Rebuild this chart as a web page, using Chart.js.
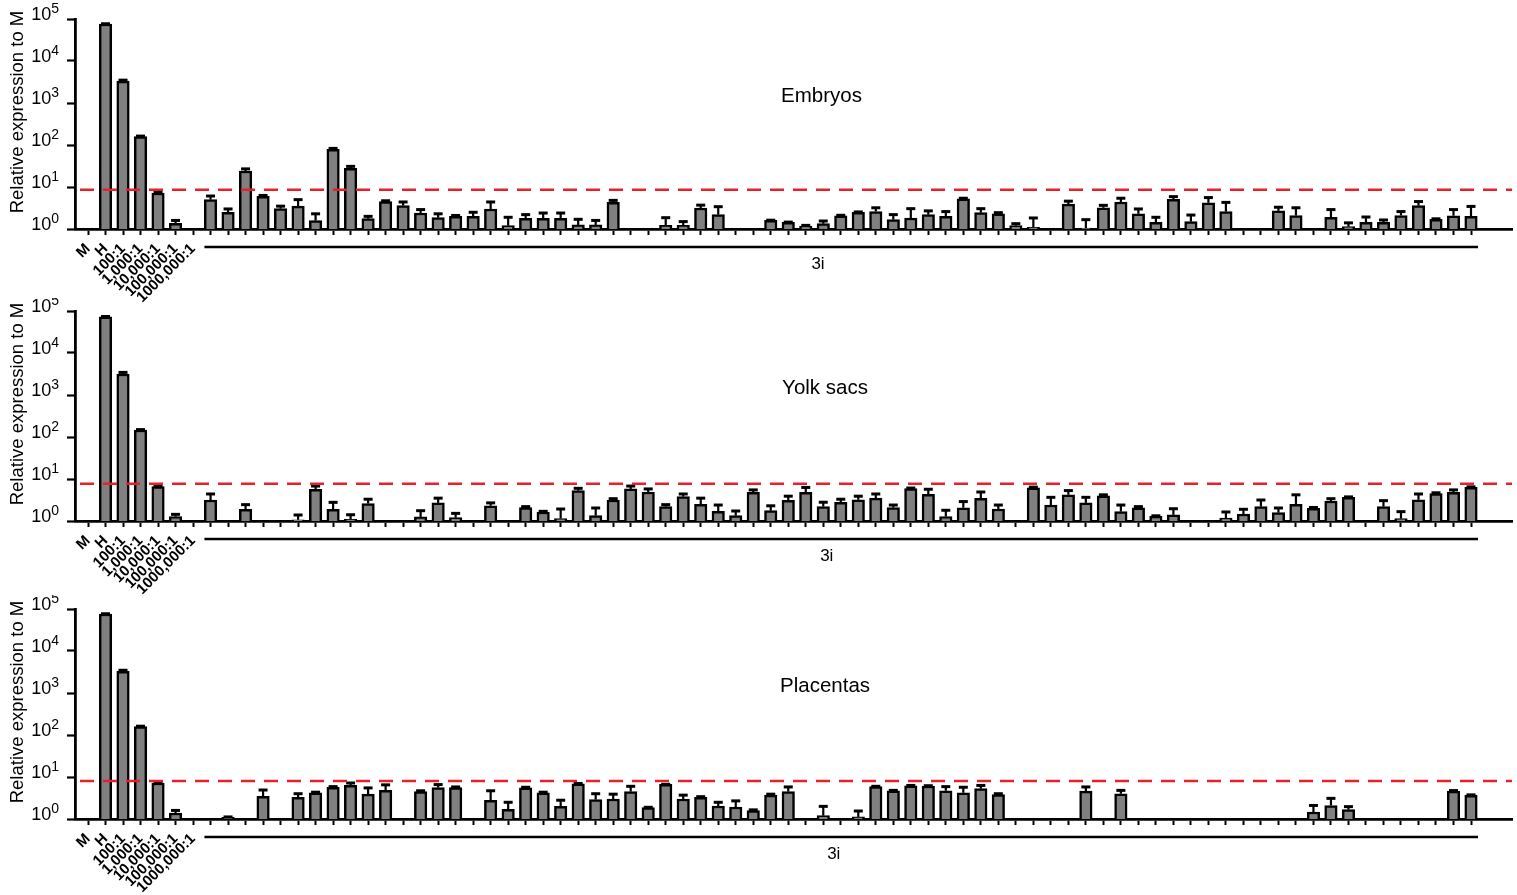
<!DOCTYPE html>
<html>
<head>
<meta charset="utf-8">
<script src="https://cdn.jsdelivr.net/npm/chart.js@4.4.1/dist/chart.umd.min.js"></script>
<style>
  html, body { margin: 0; padding: 0; background: #fff; }
  #wrap { position: relative; width: 1517px; height: 895px; overflow: hidden; }
  canvas { position: absolute; left: 0; }
</style>
</head>
<body>
<div id="wrap"></div>
<script>
// x categories: 7 controls then 73 "3i" samples (unlabelled)
const controlLabels = ['M', 'H', '100:1', '1,000:1', '10,000:1', '100,000:1', '1000,000:1'];
const sampleCount = 73;
const yTickPowers = [0, 1, 2, 3, 4, 5];

// Embryos
const embryoControls    = [null, 76000, 3330, 158, 7.2, 1.36, null];
const embryoControlsErr = [null, 77000, 3500, 163, 7.6, 1.6, null];
const embryoSamples = [5.0, 2.5, 24, 6.0, 3.05, 3.5, 1.58, 79, 28, 1.76, 4.5, 3.6, 2.4, 1.86, 2.0, 2.0, 3.0, 1.2, 1.8, 1.8,
  1.8, 1.25, 1.25, 4.3, null, null, 1.22, 1.22, 3.16, 2.2, null, null, 1.6, 1.44, 1.18, 1.34, 2.07, 2.5, 2.6, 1.67,
  1.83, 2.2, 2.0, 5.2, 2.45, 2.3, 1.2, 1.1, null, 3.9, 1.05, 3.2, 4.4, 2.3, 1.44, 5.1, 1.5, 4.2, 2.6, null,
  null, 2.7, 2.1, null, 1.9, 1.14, 1.44, 1.44, 2.1, 3.6, 1.7, 2.07, 2.0];
const embryoSamplesErr = [6.1, 3.0, 27, 6.3, 3.5, 5.0, 2.3, 83, 31, 2.0, 4.7, 4.4, 2.9, 2.3, 2.1, 2.5, 4.4, 1.9, 2.2, 2.4,
  2.4, 1.7, 1.6, 4.8, null, null, 1.86, 1.5, 3.7, 3.4, null, null, 1.62, 1.46, 1.22, 1.55, 2.12, 2.55, 3.2, 2.2,
  3.05, 2.7, 2.6, 5.4, 3.05, 2.45, 1.34, 1.83, null, 4.6, 1.67, 3.66, 5.4, 3.0, 1.9, 5.9, 2.15, 5.6, 4.3, null,
  null, 3.3, 3.2, null, 2.9, 1.4, 1.93, 1.64, 2.6, 4.5, 1.75, 2.9, 3.45];
const embryoThreshold = 8.6;

// Yolk sacs
const yolkControls    = [null, 73000, 3160, 147, 6.6, 1.27, null];
const yolkControlsErr = [null, 74000, 3450, 150, 6.9, 1.44, null];
const yolkSamples = [3.16, null, 1.9, null, null, 1.07, 5.7, 1.9, 1.1, 2.6, null, null, 1.25, 2.7, 1.2, null, 2.3, null, 2.1, 1.64,
  1.14, 5.3, 1.34, 3.16, 5.8, 4.9, 2.2, 3.8, 2.5, 1.7, 1.34, 4.8, 1.76, 3.1, 4.8, 2.2, 2.8, 3.2, 3.5, 2.1,
  5.9, 4.3, 1.27, 2.07, 3.46, 1.93, null, 6.2, 2.4, 4.2, 2.7, 4.0, 1.67, 2.07, 1.3, 1.4, null, null, 1.18, 1.47,
  2.2, 1.58, 2.5, 2.0, 3.0, 3.66, null, 2.2, 1.14, 3.2, 4.5, 4.8, 6.3];
const yolkSamplesErr = [4.4, null, 2.45, null, null, 1.39, 6.8, 2.78, 1.41, 3.3, null, null, 1.76, 3.5, 1.52, null, 2.7, null, 2.2, 1.7,
  1.93, 6.0, 2.04, 3.4, 6.8, 5.8, 2.45, 4.4, 3.5, 2.4, 1.73, 5.5, 2.3, 3.9, 6.3, 2.8, 3.3, 3.9, 4.4, 2.4,
  6.1, 5.7, 1.8, 2.9, 4.9, 2.4, null, 6.4, 3.66, 5.3, 3.66, 4.2, 2.4, 2.2, 1.33, 1.96, null, null, 1.64, 1.9,
  3.16, 2.04, 4.2, 2.1, 3.4, 3.75, null, 3.05, 1.67, 4.4, 4.7, 5.5, 6.5];
const yolkThreshold = 7.7;

// Placentas
const placentaControls    = [null, 76000, 3300, 158, 7.2, 1.39, null];
const placentaControlsErr = [null, 77000, 3480, 162, 7.5, 1.6, null];
const placentaSamples = [null, 1.1, null, 3.46, null, 3.3, 4.2, 5.7, 6.3, 3.9, 4.8, null, 4.5, 5.6, 5.6, null, 2.8, 1.7, 5.5, 4.2,
  2.0, 6.9, 2.9, 3.0, 4.5, 1.86, 6.7, 3.0, 3.3, 2.04, 1.93, 1.58, 3.7, 4.5, null, 1.2, null, 1.12, 5.9, 4.7,
  6.2, 6.1, 4.7, 4.2, 5.3, 3.8, null, null, null, null, 4.6, null, 4.0, null, null, null, null, null, null, null,
  null, null, null, 1.47, 2.1, 1.67, null, null, null, null, null, 4.6, 3.66];
const placentaSamplesErr = [null, 1.12, null, 4.9, null, 4.0, 4.35, 5.9, 7.2, 5.5, 6.5, null, 4.7, 6.6, 5.8, null, 4.7, 2.5, 5.7, 4.35,
  2.8, 7.0, 4.0, 3.9, 6.0, 1.9, 6.7, 3.7, 3.4, 2.5, 2.7, 1.65, 3.9, 5.8, null, 2.0, null, 1.55, 6.0, 4.8,
  6.3, 6.2, 5.9, 5.7, 6.3, 4.0, null, null, null, null, 5.8, null, 4.8, null, null, null, null, null, null, null,
  null, null, null, 2.1, 3.1, 1.97, null, null, null, null, null, 4.75, 3.75];
const placentaThreshold = 8.0;

const FONT = '"Liberation Sans", Arial, sans-serif';
const EXTRA = 16; // canvas overhang so rotated labels are not clipped

const decorPlugin = {
  id: 'decor',
  afterDraw(chart, args, opts) {
    const ctx = chart.ctx;
    const area = chart.chartArea;
    const xs = chart.scales.x;
    const ys = chart.scales.y;
    ctx.save();

    // error bars
    const meta = chart.getDatasetMeta(0);
    ctx.strokeStyle = '#000';
    meta.data.forEach((bar, i) => {
      const e = opts.errors[i];
      const v = chart.data.datasets[0].data[i].y;
      if (e == null || v == null) return;
      const ey = ys.getPixelForValue(e);
      ctx.lineWidth = 2.2;
      ctx.beginPath();
      ctx.moveTo(bar.x, bar.y);
      ctx.lineTo(bar.x, ey);
      ctx.stroke();
      ctx.lineWidth = 3;
      ctx.beginPath();
      ctx.moveTo(bar.x - 4.5, ey);
      ctx.lineTo(bar.x + 4.5, ey);
      ctx.stroke();
    });

    // threshold line
    const ty = ys.getPixelForValue(opts.threshold);
    ctx.strokeStyle = '#e8202a';
    ctx.lineWidth = 2.5;
    ctx.setLineDash([14, 9]);
    ctx.beginPath();
    ctx.moveTo(area.left + 5, ty);
    ctx.lineTo(area.right, ty);
    ctx.stroke();
    ctx.setLineDash([]);

    // y tick labels 10^n
    ctx.fillStyle = '#000';
    ctx.textBaseline = 'middle';
    yTickPowers.forEach(p => {
      const py = ys.getPixelForValue(Math.pow(10, p)) - 4;
      ctx.font = '14px ' + FONT;
      const sup = String(p);
      const sw = ctx.measureText(sup).width;
      ctx.textAlign = 'left';
      ctx.fillText(sup, 59 - sw, py - 6);
      ctx.font = '18px ' + FONT;
      ctx.textAlign = 'right';
      ctx.fillText('10', 59 - sw, py);
    });

    // y axis title
    ctx.save();
    ctx.translate(18, (area.top + area.bottom) / 2 - 12);
    ctx.rotate(-Math.PI / 2);
    ctx.font = '18.5px ' + FONT;
    ctx.textAlign = 'center';
    ctx.textBaseline = 'middle';
    ctx.fillText('Relative expression to M', 0, 0);
    ctx.restore();

    // panel title
    ctx.font = '20.5px ' + FONT;
    ctx.textAlign = 'center';
    ctx.textBaseline = 'middle';
    ctx.fillText(opts.title, xs.getPixelForValue(opts.titleAt), area.top + 77);

    // 3i group line
    const gy = area.bottom + 18;
    ctx.strokeStyle = '#000';
    ctx.lineWidth = 2.5;
    ctx.beginPath();
    ctx.moveTo(xs.getPixelForValue(6.65), gy);
    ctx.lineTo(xs.getPixelForValue(79.4), gy);
    ctx.stroke();
    ctx.font = '17px ' + FONT;
    ctx.fillText('3i', xs.getPixelForValue(opts.groupAt), area.bottom + 35);

    ctx.restore();
  }
};

function buildPanel(p) {
  const canvas = document.createElement('canvas');
  canvas.width = 1517;
  canvas.height = p.height + EXTRA;
  canvas.style.top = p.top + 'px';
  document.getElementById('wrap').appendChild(canvas);

  const values = p.controls.concat(p.samples);
  const errors = p.controlsErr.concat(p.samplesErr);
  const total = controlLabels.length + sampleCount;

  new Chart(canvas.getContext('2d'), {
    type: 'bar',
    data: {
      datasets: [{
        data: values.map((v, i) => ({ x: i, y: v })),
        backgroundColor: '#808080',
        borderColor: '#000',
        borderWidth: 2.5,
        barThickness: 12.5
      }]
    },
    options: {
      responsive: false,
      animation: false,
      layout: { padding: { top: p.padTop, right: 5, left: 0, bottom: 0 } },
      plugins: {
        legend: { display: false },
        tooltip: { enabled: false },
        decor: { errors: errors, threshold: p.threshold, title: p.title, titleAt: p.titleAt, groupAt: p.groupAt }
      },
      scales: {
        x: {
          type: 'linear',
          min: -0.743,
          max: 81.342,
          offset: false,
          afterBuildTicks: s => { s.ticks = Array.from({ length: total }, (_, i) => ({ value: i })); },
          afterFit: s => { s.height = p.height + EXTRA - p.base; },
          grid: { offset: false, drawOnChartArea: false, drawTicks: true, tickLength: 6, tickWidth: 2, tickColor: '#000' },
          border: { display: true, color: '#000', width: 2.8 },
          ticks: {
            autoSkip: false,
            minRotation: 45,
            maxRotation: 45,
            padding: 5,
            color: '#000',
            font: { family: FONT, size: 15, weight: 'bold' },
            callback: v => (Number.isInteger(v) && v < controlLabels.length) ? controlLabels[v] : ''
          }
        },
        y: {
          type: 'logarithmic',
          min: 1,
          max: 100000,
          afterBuildTicks: s => { s.ticks = yTickPowers.map(e => ({ value: Math.pow(10, e) })); },
          afterFit: s => { s.width = 75; },
          grid: { drawOnChartArea: false, drawTicks: true, tickLength: 8, tickWidth: 2.2, tickColor: '#000' },
          border: { display: true, color: '#000', width: 2.8 },
          ticks: { display: false }
        }
      }
    },
    plugins: [decorPlugin]
  });
}

buildPanel({ top: 0, height: 298, padTop: 19, base: 229, title: 'Embryos', titleAt: 41.9, groupAt: 41.7,
  threshold: embryoThreshold, controls: embryoControls, controlsErr: embryoControlsErr,
  samples: embryoSamples, samplesErr: embryoSamplesErr });
buildPanel({ top: 298, height: 297, padTop: 13, base: 223, title: 'Yolk sacs', titleAt: 42.1, groupAt: 42.2,
  threshold: yolkThreshold, controls: yolkControls, controlsErr: yolkControlsErr,
  samples: yolkSamples, samplesErr: yolkSamplesErr });
buildPanel({ top: 595, height: 300, padTop: 14, base: 224, title: 'Placentas', titleAt: 42.1, groupAt: 42.6,
  threshold: placentaThreshold, controls: placentaControls, controlsErr: placentaControlsErr,
  samples: placentaSamples, samplesErr: placentaSamplesErr });
</script>
</body>
</html>
